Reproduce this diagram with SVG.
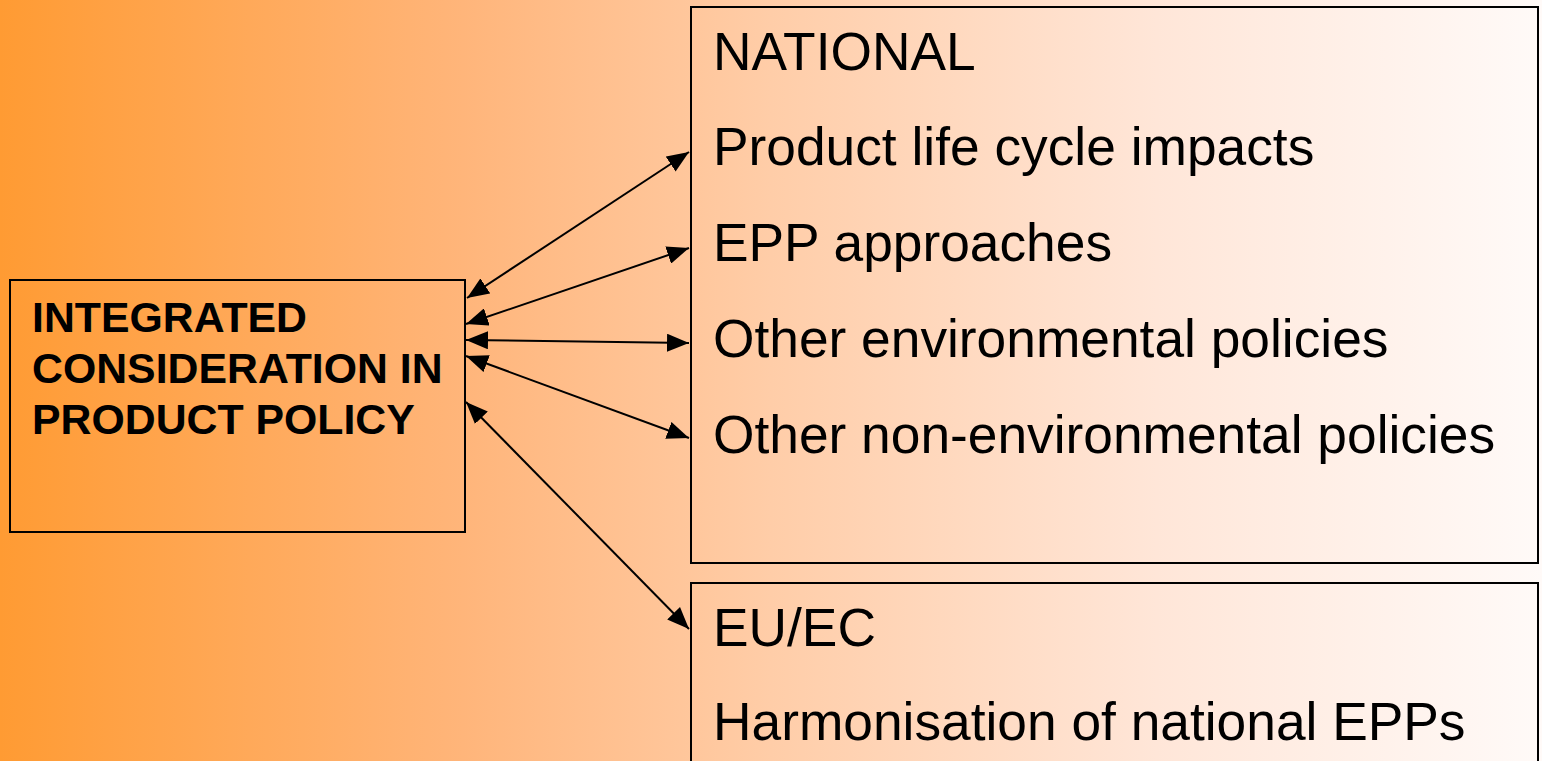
<svg xmlns="http://www.w3.org/2000/svg" width="1542" height="761" viewBox="0 0 1542 761">
<defs>
<linearGradient id="bg" x1="0" y1="0" x2="1" y2="0">
<stop offset="0" stop-color="#FF9B33"/>
<stop offset="0.3" stop-color="#FFB57A"/>
<stop offset="0.5" stop-color="#FFCDA8"/>
<stop offset="0.75" stop-color="#FFE6D8"/>
<stop offset="1" stop-color="#FFFAF8"/>
</linearGradient>
<marker id="ah" viewBox="0 0 22 18" refX="22" refY="9" markerWidth="22" markerHeight="18" markerUnits="userSpaceOnUse" orient="auto-start-reverse">
<path d="M0,0 L22,9 L0,18 Z" fill="#000"/>
</marker>
<style>
.box{fill:none;stroke:#000;stroke-width:2}
.t{font-family:"Liberation Sans",Arial,sans-serif;font-size:53.3px;fill:#000}
.b{font-family:"Liberation Sans",Arial,sans-serif;font-size:42.8px;font-weight:bold;fill:#000}
.c{stroke:#000;stroke-width:2;fill:none;marker-start:url(#ah);marker-end:url(#ah)}
</style>
</defs>
<rect width="1542" height="761" fill="url(#bg)"/>
<g id="integrated">
<rect class="box" x="10" y="280" width="455" height="252"/>
<text class="b" x="32" y="332">INTEGRATED</text>
<text class="b" x="32" y="383">CONSIDERATION IN</text>
<text class="b" x="32" y="434">PRODUCT POLICY</text>
</g>
<g id="national">
<rect class="box" x="691" y="7" width="847" height="556"/>
<text class="t" x="713" y="70">NATIONAL</text>
<text class="t" x="713" y="165">Product life cycle impacts</text>
<text class="t" x="713" y="261">EPP approaches</text>
<text class="t" x="713" y="357">Other environmental policies</text>
<text class="t" x="713" y="453">Other non-environmental policies</text>
</g>
<g id="euec">
<rect class="box" x="691" y="583" width="847" height="200"/>
<text class="t" x="713" y="646">EU/EC</text>
<text class="t" x="713" y="740">Harmonisation of national EPPs</text>
</g>
<g id="connectors">
<line class="c" x1="467" y1="298" x2="689" y2="152"/>
<line class="c" x1="466" y1="324" x2="689" y2="248"/>
<line class="c" x1="466" y1="340" x2="689" y2="343"/>
<line class="c" x1="466" y1="356" x2="689" y2="438"/>
<line class="c" x1="466" y1="402" x2="689" y2="629"/>
</g>
</svg>
